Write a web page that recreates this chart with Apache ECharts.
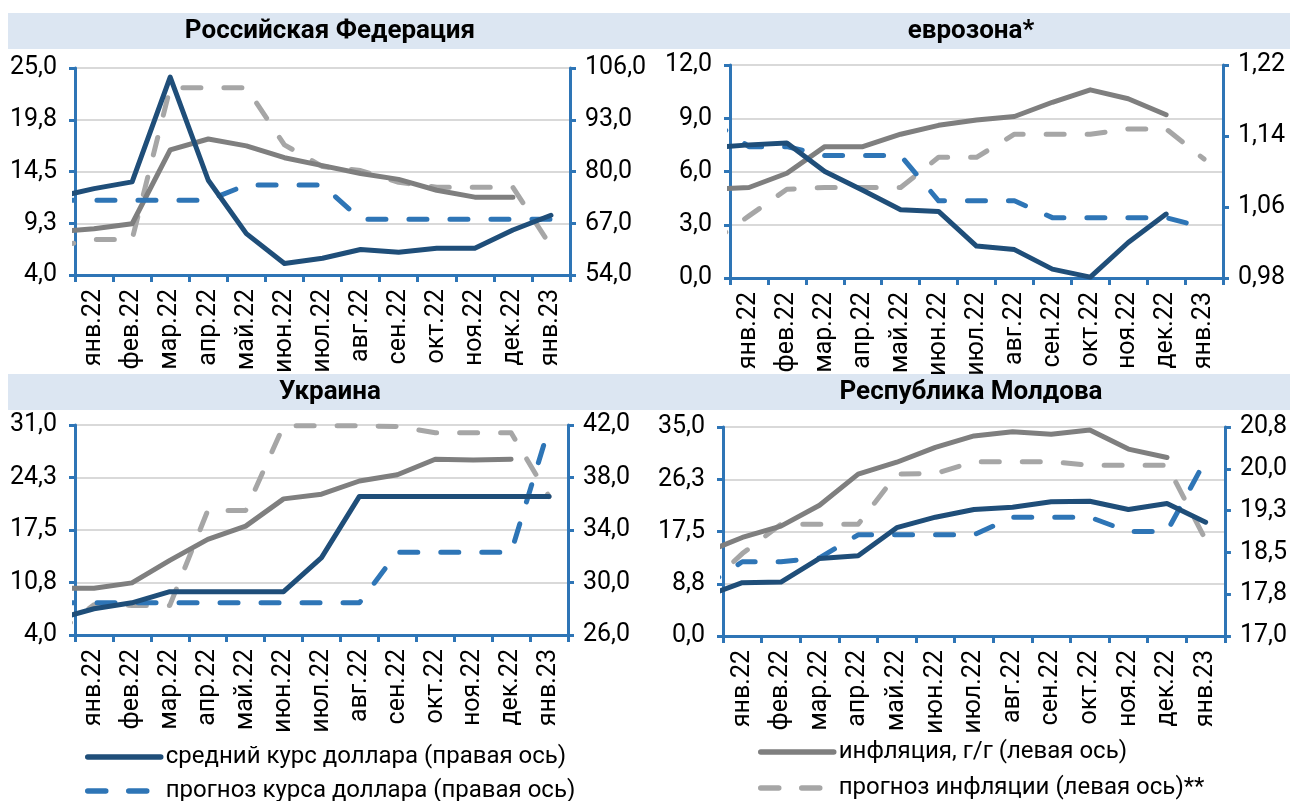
<!DOCTYPE html>
<html>
<head>
<meta charset="utf-8">
<script src="https://cdn.jsdelivr.net/npm/echarts@6/dist/echarts.min.js"></script>
<style>
  html, body { margin: 0; padding: 0; background: #fff; }
  #chart { width: 1290px; height: 801px; }
</style>
</head>
<body>
<div id="chart"></div>
<script>
  // месяцы по оси X
  var months = ['янв.22', 'фев.22', 'мар.22', 'апр.22', 'май.22', 'июн.22', 'июл.22',
    'авг.22', 'сен.22', 'окт.22', 'ноя.22', 'дек.22', 'янв.23']

  // ряды: дек.21 ... янв.23 (дек.21 стоит за левой осью и обрезается)
  var rfRate = [73.5, 75.7, 77.4, 103.7, 77.8, 64.4, 56.9, 58.2, 60.4, 59.7, 60.7, 60.7, 65.3, 69.0]
  var rfRateFc = [72.8, 72.8, 72.8, 72.8, 72.8, 76.6, 76.6, 76.6, 68.0, 68.0, 68.0, 68.0, 68.0, 68.0]
  var rfInfl = [8.4, 8.7, 9.2, 16.7, 17.8, 17.1, 15.9, 15.1, 14.3, 13.7, 12.6, 11.9, 11.9, null]
  var rfInflFc = [6.9, 7.6, 7.6, 23.0, 23.0, 23.0, 17.2, 15.0, 14.6, 13.4, 12.9, 12.9, 12.9, 6.9]

  var ezRate = [1.127, 1.130, 1.132, 1.100, 1.079, 1.057, 1.055, 1.016, 1.012, 0.990, 0.981, 1.020, 1.052, null]
  var ezRateFc = [1.158, 1.128, 1.128, 1.118, 1.118, 1.118, 1.067, 1.067, 1.067, 1.048, 1.048, 1.048, 1.048, 1.037]
  var ezInfl = [5.0, 5.1, 5.9, 7.4, 7.4, 8.1, 8.6, 8.9, 9.1, 9.9, 10.6, 10.1, 9.2, null]
  var ezInflFc = [2.0, 3.5, 5.0, 5.1, 5.1, 5.1, 6.8, 6.8, 8.1, 8.1, 8.1, 8.4, 8.4, 6.7]

  var uaRate = [27.2, 28.0, 28.45, 29.3, 29.3, 29.3, 29.3, 31.9, 36.56, 36.56, 36.56, 36.56, 36.56, 36.56]
  var uaRateFc = [28.45, 28.45, 28.45, 28.45, 28.45, 28.45, 28.45, 28.45, 28.45, 32.3, 32.3, 32.3, 32.3, 41.8]
  var uaInfl = [10.0, 10.0, 10.7, 13.6, 16.3, 18.0, 21.5, 22.1, 23.8, 24.6, 26.6, 26.5, 26.6, null]
  var uaInflFc = [4.2, 7.9, 7.8, 7.8, 20.0, 20.0, 30.9, 30.9, 30.9, 30.8, 30.0, 30.0, 30.0, 21.8]

  var mdRate = [17.71, 17.97, 17.98, 18.41, 18.46, 18.97, 19.16, 19.30, 19.34, 19.44, 19.45, 19.30, 19.41, 19.07]
  var mdRateFc = [17.89, 18.35, 18.35, 18.42, 18.84, 18.84, 18.84, 18.84, 19.16, 19.16, 19.16, 18.90, 18.90, 20.2]
  var mdInfl = [13.9, 16.5, 18.4, 21.9, 27.1, 29.1, 31.6, 33.5, 34.2, 33.8, 34.5, 31.3, 29.9, null]
  var mdInflFc = [7.8, 13.8, 18.7, 18.7, 18.7, 27.1, 27.2, 29.2, 29.2, 29.2, 28.6, 28.6, 28.6, 16.1]

  var FONT = 'Roboto'
  var BLUE = '#2e75b6'
  var NAVY = '#1f4e79'
  var GRAY = '#7f7f7f'
  var LGRAY = '#a6a6a6'
  var BAND = '#dce6f2'

  var NAMES = {
    rate: 'средний курс доллара (правая ось)',
    rateFc: 'прогноз курса доллара (правая ось)',
    infl: 'инфляция, г/г (левая ось)',
    inflFc: 'прогноз инфляции (левая ось)**'
  }

  var panels = [
    { title: 'Российская Федерация', grid: { left: 75, top: 68, width: 495, height: 207 },
      yl: [4, 25, 5.25, 1], yr: [54, 106, 13, 1],
      rate: rfRate, rateFc: rfRateFc, infl: rfInfl, inflFc: rfInflFc },
    { title: 'еврозона*', grid: { left: 730, top: 65, width: 493, height: 213 },
      yl: [0, 12, 3, 1], yr: [0.98, 1.22, 0.08, 2],
      rate: ezRate, rateFc: ezRateFc, infl: ezInfl, inflFc: ezInflFc },
    { title: 'Украина', grid: { left: 75, top: 425, width: 493, height: 210 },
      yl: [4, 31, 6.75, 1], yr: [26, 42, 4, 1],
      rate: uaRate, rateFc: uaRateFc, infl: uaInfl, inflFc: uaInflFc },
    { title: 'Республика Молдова', grid: { left: 723, top: 427, width: 502, height: 209 },
      yl: [0, 35, 8.75, 1], yr: [17, 20.8, 0.76, 1],
      rate: mdRate, rateFc: mdRateFc, infl: mdInfl, inflFc: mdInflFc }
  ]

  // полосы заголовков
  var bands = [
    { x: 8, y: 13, w: 644, h: 36, cx: 330 },
    { x: 652, y: 13, w: 638, h: 36, cx: 971 },
    { x: 8, y: 374, w: 644, h: 36, cx: 330 },
    { x: 652, y: 374, w: 638, h: 36, cx: 971 }
  ]

  // легенда: по одному элементу в строке
  var legendRows = [
    { name: NAMES.rate, left: 85, top: 744 },
    { name: NAMES.rateFc, left: 85, top: 778 },
    { name: NAMES.infl, left: 758, top: 739 },
    { name: NAMES.inflFc, left: 758, top: 775 }
  ]

  function pairs (arr) {
    return arr.map(function (v, i) { return [i - 0.5, v] })
  }

  function fmt (d) {
    return function (v) { return v.toFixed(d).replace('.', ',') }
  }

  function yAxis (k, cfg, pos, grid) {
    return {
      type: 'value',
      gridIndex: k,
      position: pos,
      min: cfg[0],
      max: cfg[1],
      interval: cfg[2],
      axisLine: { show: true, lineStyle: { color: BLUE, width: 3 } },
      axisTick: { show: true, length: 6, lineStyle: { color: BLUE, width: 3 } },
      splitLine: { show: grid, lineStyle: { color: '#d9d9d9', width: 2 } },
      axisLabel: {
        formatter: fmt(cfg[3]), fontSize: 25, fontFamily: FONT, color: '#000',
        margin: pos === 'left' ? 18 : 15
      }
    }
  }

  function lineSeries (name, k, yIdx, data, color, dashed) {
    return {
      name: name,
      type: 'line',
      xAxisIndex: k * 2 + 1,
      yAxisIndex: k * 2 + yIdx,
      data: pairs(data),
      symbol: 'none',
      connectNulls: false,
      clip: true,
      animation: false,
      lineStyle: {
        color: color,
        width: 5,
        type: dashed ? [18, 23] : 'solid',
        cap: 'round',
        join: 'round'
      },
      itemStyle: { color: color }
    }
  }

  var option = {
    backgroundColor: '#fff',
    animation: false,
    grid: [],
    xAxis: [],
    yAxis: [],
    series: [],
    graphic: [],
    legend: legendRows.map(function (r) {
      return {
        data: [{ name: r.name, lineStyle: { width: 5.5 } }],
        left: r.left,
        top: r.top,
        padding: 0,
        itemWidth: 73,
        itemHeight: 14,
        selectedMode: false,
        itemStyle: { opacity: 0 },
        lineStyle: { width: 5.5 },
        textStyle: { fontSize: 24, fontFamily: FONT, color: '#000', lineHeight: 26 }
      }
    })
  }

  panels.forEach(function (p, k) {
    option.grid.push(Object.assign({ containLabel: false }, p.grid))

    option.xAxis.push({
      type: 'category',
      gridIndex: k,
      data: months,
      boundaryGap: true,
      axisLine: { onZero: false, lineStyle: { color: BLUE, width: 3 } },
      axisTick: { show: true, length: 7, interval: 0, lineStyle: { color: BLUE, width: 3 } },
      axisLabel: { interval: 0, rotate: 90, fontSize: 25, fontFamily: FONT, color: '#000', margin: 14 },
      splitLine: { show: false }
    })
    // скрытая числовая ось для точек (0..13 = ширина 13 месяцев)
    option.xAxis.push({
      type: 'value',
      gridIndex: k,
      min: 0,
      max: months.length,
      show: false
    })

    option.yAxis.push(yAxis(k, p.yl, 'left', true))
    option.yAxis.push(yAxis(k, p.yr, 'right', false))

    option.series.push(lineSeries(NAMES.inflFc, k, 0, p.inflFc, LGRAY, true))
    option.series.push(lineSeries(NAMES.infl, k, 0, p.infl, GRAY, false))
    option.series.push(lineSeries(NAMES.rateFc, k, 1, p.rateFc, BLUE, true))
    option.series.push(lineSeries(NAMES.rate, k, 1, p.rate, NAVY, false))

    var b = bands[k]
    option.graphic.push({
      type: 'rect',
      shape: { x: b.x, y: b.y, width: b.w, height: b.h },
      style: { fill: BAND },
      z: -1
    })
    option.graphic.push({
      type: 'text',
      x: b.cx,
      y: b.y + b.h / 2,
      style: {
        text: p.title,
        fill: '#000',
        font: 'bold 26px ' + FONT,
        textAlign: 'center',
        textVerticalAlign: 'middle',
        align: 'center',
        verticalAlign: 'middle'
      }
    })
  })

  var myChart = echarts.init(document.getElementById('chart'))
  myChart.setOption(option)
</script>
</body>
</html>
